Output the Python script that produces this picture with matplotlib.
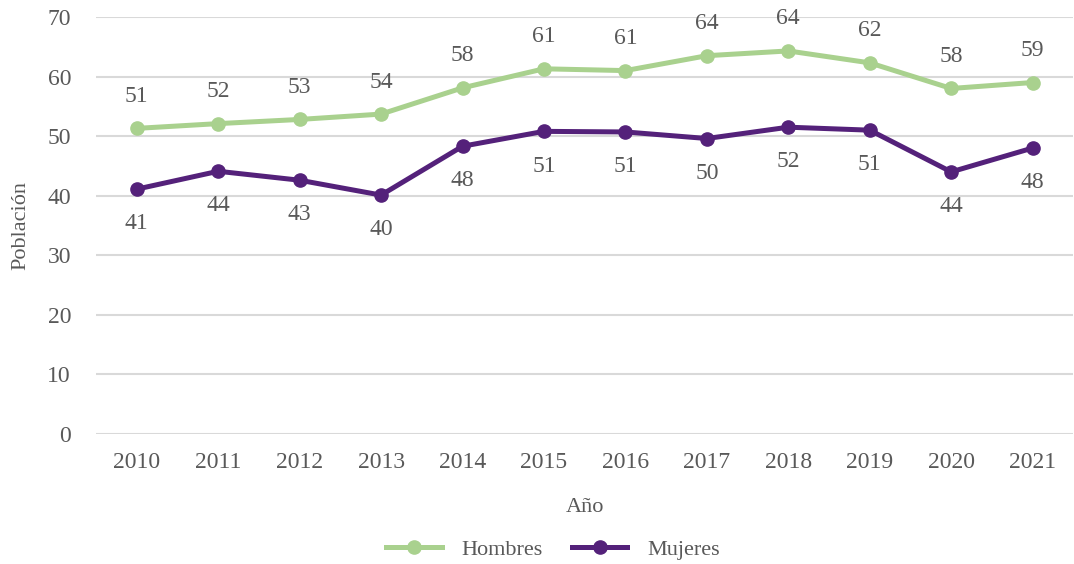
import numpy as np
import matplotlib.pyplot as plt

plt.rcParams['font.family'] = ['Liberation Serif', 'DejaVu Serif']

# --- Datos ---
anios = ['2010', '2011', '2012', '2013', '2014', '2015',
         '2016', '2017', '2018', '2019', '2020', '2021']
hombres = [51.3, 52.1, 52.8, 53.7, 58.1, 61.3, 61.0, 63.5, 64.3, 62.3, 58.0, 59.0]
mujeres = [41.1, 44.1, 42.6, 40.1, 48.3, 50.8, 50.7, 49.6, 51.5, 51.0, 44.0, 48.0]

c_h = '#A9D18E'
c_m = '#54217A'
gris = '#595959'

fig = plt.figure(figsize=(10.74, 5.64), dpi=100)
ax = fig.add_axes([0.0894, 0.2305, 0.91, 0.7394])

x = np.arange(len(anios))
ax.plot(x, hombres, '-o', color=c_h, lw=3.6, ms=9.5, label='Hombres', zorder=3)
ax.plot(x, mujeres, '-o', color=c_m, lw=3.6, ms=9.5, label='Mujeres', zorder=3)

# Etiquetas de datos
for xi, v in zip(x, hombres):
    ax.annotate(f'{v:.0f}', (xi, v), xytext=(0, 23), textcoords='offset points',
                ha='center', va='center', fontsize=17, color=gris)
for xi, v in zip(x, mujeres):
    ax.annotate(f'{v:.0f}', (xi, v), xytext=(0, -25), textcoords='offset points',
                ha='center', va='center', fontsize=17, color=gris)

ax.set_xlim(-0.5, len(anios) - 0.5)
ax.set_ylim(0, 70)
ax.set_yticks(range(0, 71, 10))
ax.set_xticks(x)
ax.set_xticklabels(anios)
ax.tick_params(length=0, labelsize=17, labelcolor=gris)
ax.tick_params(axis='x', pad=13)
ax.tick_params(axis='y', pad=18)
ax.grid(axis='y', color='#D9D9D9', lw=1.5)
ax.set_axisbelow(True)
for s in ax.spines.values():
    s.set_visible(False)

ax.set_xlabel('Año', fontsize=16, color=gris, labelpad=18)
ax.set_ylabel('Población', fontsize=16, color=gris, labelpad=12)

fig.legend(*ax.get_legend_handles_labels(), loc='center', bbox_to_anchor=(0.515, 0.025),
           ncol=2, frameon=False, fontsize=16, labelcolor=gris,
           handlelength=2.5, columnspacing=1.3, handletextpad=0.9)

plt.savefig('out.png', dpi=100)
